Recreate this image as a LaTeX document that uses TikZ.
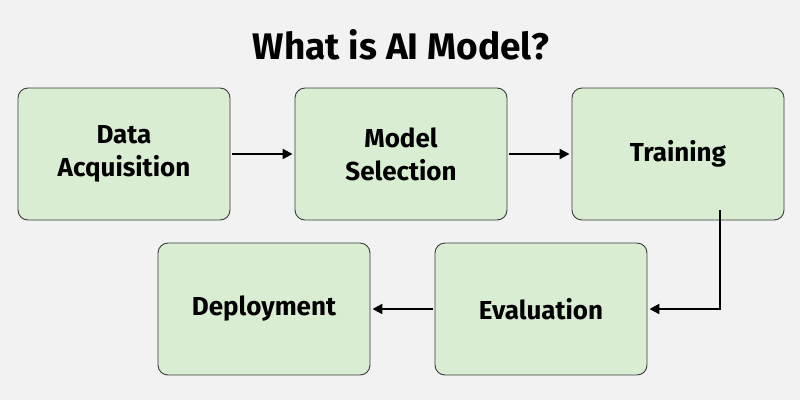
\documentclass[tikz,border=0pt]{standalone}
\usepackage{fontspec}
\setmainfont{Fira Sans}
\usetikzlibrary{arrows.meta}
\definecolor{bg}{HTML}{F2F2F2}
\definecolor{boxfill}{HTML}{D9EDD2}
\definecolor{boxline}{HTML}{3A3A3A}
\tikzset{
  stepbox/.style={draw=boxline, line width=0.9pt, fill=boxfill, rounded corners=10pt,
    minimum width=212pt, minimum height=132pt, align=center, font=\fontsize{26}{33}\selectfont\bfseries, inner sep=0pt},
  conn/.style={line width=2.2pt, -{Triangle[length=10pt,width=10pt]}}
}
\begin{document}
\begin{tikzpicture}[x=1pt,y=-1pt]
\fill[bg] (0,0) rectangle (800,400);
\useasboundingbox (0,0) rectangle (800,400);
\node[font=\fontsize{37}{40}\selectfont\bfseries] (title) at (401,45) {What is AI Model?};
\node[stepbox] (a) at (124,154) {Data\\Acquisition};
\node[stepbox] (b) at (401,154) {Model\\Selection};
\node[stepbox] (c) at (678,154) {Training};
\node[stepbox] (d) at (264,309) {Deployment};
\node[stepbox] (e) at (541,309) {Evaluation};
\draw[conn] ([xshift=2pt]a.east) -- ([xshift=-2pt]b.west);
\draw[conn] ([xshift=2pt]b.east) -- ([xshift=-2pt]c.west);
\draw[conn] ([xshift=42pt,yshift=10pt]c.south) |- ([xshift=2pt]e.east);
\draw[conn] ([xshift=-2pt]e.west) -- ([xshift=2pt]d.east);
\end{tikzpicture}
\end{document}
